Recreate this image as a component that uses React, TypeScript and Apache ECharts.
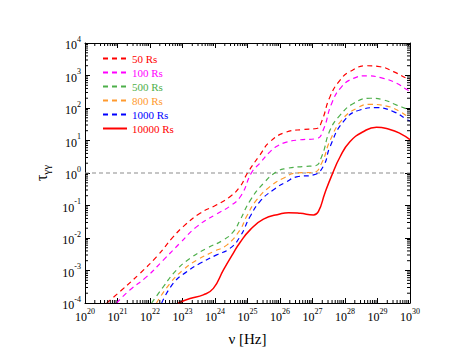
import React, { useEffect, useRef } from "react";
import * as echarts from "echarts";

// log10(nu [Hz]) and log10(tau)
const logNu50 = [20.67, 21.13, 21.69, 22.2, 22.72, 23.02, 23.54, 24.05, 24.46, 24.77, 25.0, 25.38, 25.69, 26.2, 26.72, 27.13, 27.28, 27.54, 27.85, 28.15, 28.67, 29.08, 29.49, 29.9, 30];
const logTau50 = [-4, -3.6, -3.09, -2.58, -1.96, -1.65, -1.24, -0.98, -0.73, -0.42, 0.0, 0.55, 0.96, 1.26, 1.34, 1.37, 1.58, 2.35, 2.86, 3.12, 3.3, 3.27, 3.12, 2.91, 2.87];

const logNu100 = [20.97, 21.38, 21.9, 22.41, 22.92, 23.44, 24.05, 24.46, 24.8, 25.13, 25.38, 25.69, 25.9, 26.2, 26.6, 27.13, 27.33, 27.59, 27.9, 28.26, 28.67, 29.18, 29.59, 29.9, 30];
const logTau100 = [-4, -3.6, -3.19, -2.68, -2.16, -1.65, -1.26, -1.02, -0.7, 0.02, 0.3, 0.65, 0.82, 0.95, 1.02, 1.06, 1.32, 2.14, 2.66, 2.91, 2.99, 2.91, 2.76, 2.57, 2.52];

const logNu500 = [22.05, 22.41, 22.82, 23.23, 23.74, 24.26, 24.56, 24.77, 25.08, 25.49, 25.9, 26.2, 26.72, 27.08, 27.28, 27.54, 27.85, 28.26, 28.77, 29.18, 29.59, 29.9, 30];
const logTau500 = [-4, -3.5, -2.98, -2.63, -2.32, -2.06, -1.81, -1.45, -0.85, -0.32, 0.04, 0.14, 0.2, 0.22, 0.5, 1.32, 1.78, 2.14, 2.3, 2.25, 2.09, 1.97, 1.93];

const logNu800 = [22.2, 22.62, 23.02, 23.44, 23.95, 24.36, 24.77, 24.97, 25.28, 25.69, 26.1, 26.51, 27.03, 27.28, 27.54, 27.9, 28.36, 28.77, 29.28, 29.69, 29.9, 30];
const logTau800 = [-4, -3.39, -2.98, -2.68, -2.42, -2.22, -1.75, -1.34, -0.83, -0.42, -0.16, 0.0, 0.02, 0.3, 1.0, 1.63, 1.99, 2.11, 2.06, 1.89, 1.76, 1.72];

const logNu1000 = [22.36, 22.72, 23.13, 23.54, 24.05, 24.46, 24.77, 25.08, 25.38, 25.79, 26.2, 26.51, 27.03, 27.33, 27.54, 27.95, 28.46, 28.97, 29.49, 29.9, 30];
const logTau1000 = [-4, -3.39, -3.04, -2.78, -2.52, -2.32, -1.96, -1.34, -0.88, -0.52, -0.27, -0.12, -0.06, 0.2, 0.81, 1.58, 1.94, 2.01, 1.89, 1.65, 1.6];

const logNu10000 = [22.87, 23.23, 23.64, 23.95, 24.26, 24.56, 24.77, 25.08, 25.49, 26.0, 26.26, 26.62, 27.03, 27.18, 27.38, 27.59, 27.85, 28.15, 28.56, 28.97, 29.38, 29.69, 30];
const logTau10000 = [-4, -3.86, -3.75, -3.55, -2.98, -2.47, -2.14, -1.75, -1.42, -1.26, -1.22, -1.24, -1.29, -1.19, -0.62, -0.08, 0.5, 0.96, 1.27, 1.41, 1.34, 1.22, 1.03];

const seriesNames = ["50 Rs", "100 Rs", "500 Rs", "800 Rs", "1000 Rs", "10000 Rs"];
const seriesColors = ["#ff0000", "#ff00ff", "#4daf4a", "#ff9a2e", "#0000ff", "#ff0000"];
const seriesX = [logNu50, logNu100, logNu500, logNu800, logNu1000, logNu10000];
const seriesY = [logTau50, logTau100, logTau500, logTau800, logTau1000, logTau10000];
const seriesDashed = [true, true, true, true, true, false];

// tau = 1 reference line
const thresholdX = [20, 30];
const thresholdY = [0, 0];

const xMinExp = 20;
const xMaxExp = 30;
const yMinExp = -4;
const yMaxExp = 4;
const minorFactors = [2, 3, 4, 5, 6, 7, 8, 9];

const FONT = "Liberation Serif, Times New Roman, serif";

export default function App() {
  const ref = useRef<HTMLDivElement>(null);

  useEffect(() => {
    if (!ref.current) return;
    const chart = echarts.init(ref.current, undefined, { renderer: "svg" });

    const minorX: number[][] = [];
    for (let e = xMinExp; e < xMaxExp; e++) {
      minorFactors.forEach((k) => minorX.push([e + Math.log10(k), yMinExp]));
    }
    const minorY: number[][] = [];
    for (let e = yMinExp; e < yMaxExp; e++) {
      minorFactors.forEach((k) => minorY.push([xMinExp, e + Math.log10(k)]));
    }

    const powLabel = (v: number) => `{b|10}{s|${v}}`;
    const labelRich = {
      b: { fontSize: 12, fontFamily: FONT, color: "#000", lineHeight: 16, verticalAlign: "bottom" },
      s: { fontSize: 8, fontFamily: FONT, color: "#000", lineHeight: 7, verticalAlign: "top" },
    };

    const axisCommon = {
      type: "value",
      axisLine: { show: true, onZero: false, lineStyle: { color: "#000", width: 1 } },
      axisTick: { show: true, inside: true, length: 5, lineStyle: { color: "#000", width: 1 } },
      splitLine: { show: false },
    };

    const tickLen = 3;
    const lineSeries = seriesNames.map((name, i) => ({
      name,
      type: "line",
      xAxisIndex: 0,
      yAxisIndex: 0,
      data: seriesX[i].map((x, j) => [x, seriesY[i][j]]),
      showSymbol: false,
      symbol: "none",
      smooth: 0.5,
      color: seriesColors[i],
      lineStyle: {
        color: seriesColors[i],
        width: seriesDashed[i] ? 1.2 : 1.5,
        type: seriesDashed[i] ? [5, 4] : "solid",
      },
      z: 3,
    }));

    const option: any = {
      animation: false,
      backgroundColor: "#fff",
      textStyle: { fontFamily: FONT },
      grid: { left: 85, right: 66, top: 43, bottom: 61, containLabel: false },
      legend: {
        show: true,
        orient: "vertical",
        left: 97,
        top: 47,
        itemWidth: 24,
        itemHeight: 10,
        itemGap: 1,
        selectedMode: false,
        itemStyle: { opacity: 0 },
        textStyle: { fontFamily: FONT, fontSize: 11, lineHeight: 13 },
        data: seriesNames.map((n, i) => ({ name: n, textStyle: { color: seriesColors[i] } })),
      },
      xAxis: [
        {
          ...axisCommon,
          position: "bottom",
          min: xMinExp,
          max: xMaxExp,
          interval: 1,
          axisLabel: {
            show: true,
            margin: 4,
            formatter: powLabel,
            rich: labelRich,
            showMinLabel: true,
            showMaxLabel: true,
          },
          name: "ν [Hz]",
          nameLocation: "middle",
          nameGap: 28,
          nameTextStyle: { fontFamily: FONT, fontSize: 15, color: "#000" },
        },
        {
          ...axisCommon,
          position: "top",
          min: xMinExp,
          max: xMaxExp,
          interval: 1,
          axisLabel: { show: false },
        },
      ],
      yAxis: [
        {
          ...axisCommon,
          position: "left",
          min: yMinExp,
          max: yMaxExp,
          interval: 1,
          axisLabel: {
            show: true,
            margin: 4,
            formatter: powLabel,
            rich: labelRich,
            showMinLabel: true,
            showMaxLabel: true,
          },
          name: "{t|τ}{s|γγ}",
          nameLocation: "middle",
          nameGap: 27,
          nameTextStyle: {
            rich: {
              t: { fontFamily: FONT, fontSize: 16, color: "#000", lineHeight: 18, verticalAlign: "top" },
              s: { fontFamily: FONT, fontSize: 11, color: "#000", lineHeight: 10, verticalAlign: "bottom" },
            },
          },
        },
        {
          ...axisCommon,
          position: "right",
          min: yMinExp,
          max: yMaxExp,
          interval: 1,
          axisLabel: { show: false },
        },
      ],
      series: [
        {
          name: "threshold",
          type: "line",
          data: thresholdX.map((x, i) => [x, thresholdY[i]]),
          showSymbol: false,
          symbol: "none",
          silent: true,
          lineStyle: { color: "#8c8c8c", width: 1.2, type: [4, 3] },
          z: 2,
        },
        ...lineSeries,
        {
          name: "minorX",
          type: "custom",
          silent: true,
          data: minorX,
          encode: { x: 0, y: 1 },
          clip: false,
          z: 5,
          renderItem: (_p: any, api: any) => {
            const v = api.value(0);
            const b = api.coord([v, yMinExp]);
            const t = api.coord([v, yMaxExp]);
            return {
              type: "group",
              children: [
                { type: "line", shape: { x1: b[0], y1: b[1], x2: b[0], y2: b[1] - tickLen }, style: { stroke: "#000", lineWidth: 1 } },
                { type: "line", shape: { x1: t[0], y1: t[1], x2: t[0], y2: t[1] + tickLen }, style: { stroke: "#000", lineWidth: 1 } },
              ],
            };
          },
        },
        {
          name: "minorY",
          type: "custom",
          silent: true,
          data: minorY,
          encode: { x: 0, y: 1 },
          clip: false,
          z: 5,
          renderItem: (_p: any, api: any) => {
            const v = api.value(1);
            const l = api.coord([xMinExp, v]);
            const r = api.coord([xMaxExp, v]);
            return {
              type: "group",
              children: [
                { type: "line", shape: { x1: l[0], y1: l[1], x2: l[0] + tickLen, y2: l[1] }, style: { stroke: "#000", lineWidth: 1 } },
                { type: "line", shape: { x1: r[0], y1: r[1], x2: r[0] - tickLen, y2: r[1] }, style: { stroke: "#000", lineWidth: 1 } },
              ],
            };
          },
        },
      ],
    };

    chart.setOption(option);
    return () => chart.dispose();
  }, []);

  return (
    <div
      ref={ref}
      style={{ position: "fixed", left: 0, top: 0, width: 476, height: 364, background: "#fff" }}
    />
  );
}
